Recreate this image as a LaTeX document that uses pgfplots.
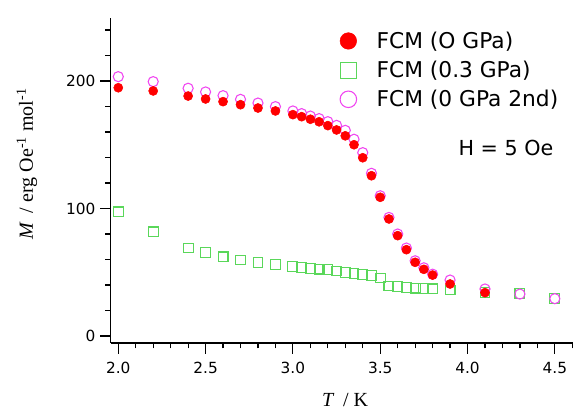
\documentclass[border=0pt]{standalone}
\usepackage{fontspec}
\setmainfont{DejaVu Sans}
\newfontfamily\serif{Liberation Serif}
\usepackage{pgfplots}
\pgfplotsset{compat=1.18}
\usetikzlibrary{calc}

\definecolor{redpt}{RGB}{255,0,0}
\definecolor{magpt}{RGB}{240,70,240}
\definecolor{grnpt}{RGB}{90,215,90}

\begin{document}
\begin{tikzpicture}
\begin{axis}[
    scale only axis,
    width=346.7pt, height=243.75pt,
    xmin=1.9565, xmax=4.604,
    ymin=-5.5, ymax=249.4,
    axis lines=left,
    axis line style={-, line width=1pt},
    tick align=outside,
    major tick length=8pt, minor tick length=4pt,
    every tick/.style={black, line width=0.9pt},
    xtick={2.0,2.5,3.0,3.5,4.0,4.5},
    minor xtick={2.1,2.2,2.3,2.4,2.6,2.7,2.8,2.9,3.1,3.2,3.3,3.4,3.6,3.7,3.8,3.9,4.1,4.2,4.3,4.4,4.6},
    ytick={0,100,200},
    minor ytick={20,40,60,80,120,140,160,180,220,240},
    xticklabel style={/pgf/number format/.cd, fixed, fixed zerofill, precision=1, /tikz/.cd, yshift=-3pt},
    /pgf/number format/assume math mode=true,
    ticklabel style={font=\fontsize{11.5}{13}\selectfont},
    xlabel={\serif\itshape T\upshape\ \ /\ K},
    ylabel={\serif\itshape M\upshape\ \ /\ erg Oe\textsuperscript{-1} mol\textsuperscript{-1}},
    label style={font=\fontsize{15}{18}\selectfont},
    xlabel style={at={(axis description cs:0.507,-0.194)}, anchor=base},
    ylabel style={at={(axis description cs:-0.181,0.551)}, anchor=center},
    legend style={draw=none, fill=none, at={(axis description cs:0.487,0.975)}, anchor=north west,
        font=\fontsize{16.3}{19}\selectfont, row sep=4pt,
        /tikz/every odd column/.append style={column sep=13pt}},
    legend cell align=left,
]
\addlegendimage{only marks, mark=*, mark size=6.2pt, mark options={fill=redpt, draw=redpt}}
\addlegendentry{FCM (O GPa)}
\addlegendimage{only marks, mark=square, mark size=6pt, mark options={draw=grnpt, line width=0.8pt}}
\addlegendentry{FCM (0.3 GPa)}
\addlegendimage{only marks, mark=o, mark size=6.2pt, mark options={draw=magpt, line width=0.8pt}}
\addlegendentry{FCM (0 GPa 2nd)}

% 0.3 GPa
\addplot[only marks, mark=square, mark size=3.7pt, mark options={draw=grnpt, line width=0.8pt}, forget plot] coordinates {
(2.0,97.3) (2.2,81.6) (2.4,69.0) (2.5,65.3) (2.6,62.0) (2.7,59.6) (2.8,57.8) (2.9,55.9)
(3.0,54.6) (3.05,53.8) (3.1,53.1) (3.15,52.5) (3.2,52.0) (3.25,51.0) (3.3,50.0) (3.35,49.2)
(3.4,48.4) (3.45,47.3) (3.5,45.5) (3.55,39.2) (3.6,38.7) (3.65,38.2) (3.7,37.6) (3.75,37.4)
(3.8,36.9) (3.9,36.1) (4.1,34.0) (4.3,33.2) (4.5,29.6)
};
% 0 GPa 2nd
\addplot[only marks, mark=o, mark size=3.8pt, mark options={draw=magpt, line width=0.8pt}, forget plot] coordinates {
(2.0,203.4) (2.2,199.5) (2.4,194.3) (2.5,191.4) (2.6,188.5) (2.7,185.6) (2.8,182.7) (2.9,179.9)
(3.0,176.5) (3.05,174.4) (3.1,172.5) (3.15,170.5) (3.2,168.1) (3.25,165.2) (3.3,161.3) (3.35,154.3)
(3.4,143.8) (3.45,127.6) (3.5,110.0) (3.55,93.0) (3.6,80.0) (3.65,69.0) (3.7,59.0) (3.75,53.5)
(3.8,48.5) (3.9,43.9) (4.1,36.9) (4.3,32.9) (4.5,29.3)
};
% 0 GPa
\addplot[only marks, mark=*, mark size=3.4pt, mark options={fill=redpt, draw=redpt}, forget plot] coordinates {
(2.0,194.7) (2.2,192.2) (2.4,188.2) (2.5,185.9) (2.6,183.8) (2.7,181.4) (2.8,178.8) (2.9,176.5)
(3.0,173.6) (3.05,172.0) (3.1,170.0) (3.15,168.0) (3.2,165.0) (3.25,161.6) (3.3,157.0) (3.35,150.0)
(3.4,139.8) (3.45,125.7) (3.5,108.8) (3.55,91.8) (3.6,78.7) (3.65,67.7) (3.7,57.8) (3.75,52.3)
(3.8,47.8) (3.9,40.8) (4.1,34.0)
};

\node[font=\fontsize{15.5}{18}\selectfont, anchor=center] at (axis cs:4.22,147.5) {H = 5 Oe};
\end{axis}
\pgfresetboundingbox
\useasboundingbox ($(current axis.south west)+(-83pt,-51.75pt)$) rectangle ($(current axis.north east)+(0pt,13.5pt)$);
\end{tikzpicture}
\end{document}
